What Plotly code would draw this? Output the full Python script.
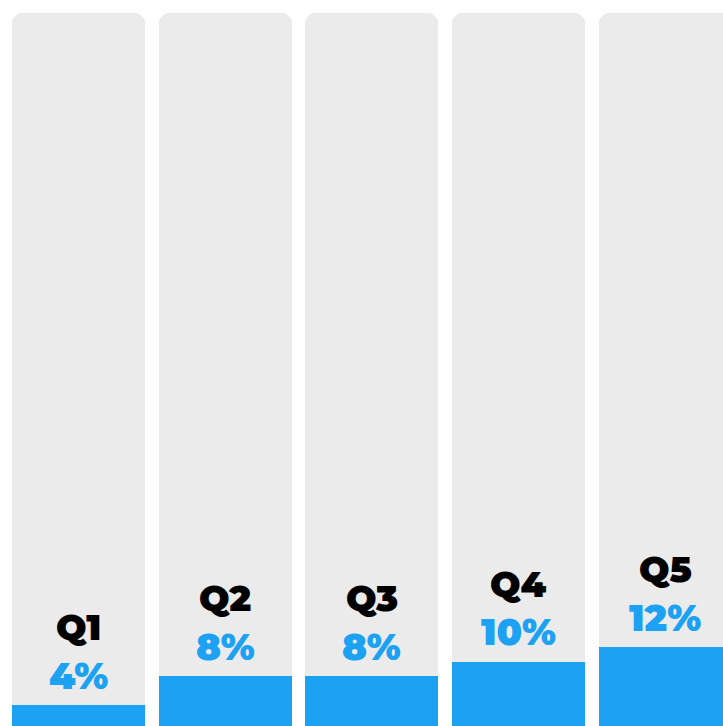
import plotly.graph_objects as go

categories = ["Q1", "Q2", "Q3", "Q4", "Q5"]
values = [4, 8, 8, 10, 12]
pct_labels = ["4%", "8%", "8%", "10%", "12%"]
full = [100, 100, 100, 100, 100]

BLUE = "#1DA1F2"
GREY = "#EBEBEB"
FONT = "Montserrat, Lato, 'Open Sans', sans-serif"

x = list(range(len(categories)))

fig = go.Figure()
fig.add_trace(go.Bar(x=x, y=full, width=0.907, marker=dict(color=GREY, cornerradius=10, line=dict(width=0)),
                     hoverinfo="skip"))
fig.add_trace(go.Bar(x=x, y=values, width=0.907, marker=dict(color=BLUE, line=dict(width=0)),
                     hovertext=categories))

annotations = []
for xi, cat, v, lab in zip(x, categories, values, pct_labels):
    annotations.append(dict(x=xi, y=v, xref="x", yref="y", text=cat, showarrow=False,
                            yanchor="middle", yshift=78,
                            font=dict(family=FONT, size=36, color="#000000", weight=900)))
    annotations.append(dict(x=xi, y=v, xref="x", yref="y", text=lab, showarrow=False,
                            yanchor="middle", yshift=30,
                            font=dict(family=FONT, size=37, color=BLUE, weight=900)))

fig.update_layout(
    width=723, height=726,
    margin=dict(l=0, r=0, t=0, b=0),
    paper_bgcolor="white", plot_bgcolor="white",
    barmode="overlay", bargap=0,
    showlegend=False,
    annotations=annotations,
    xaxis=dict(range=[-0.535, 4.393], visible=False, fixedrange=True),
    yaxis=dict(range=[1.11, 101.8], visible=False, fixedrange=True),
)

fig.write_html("out.html")
